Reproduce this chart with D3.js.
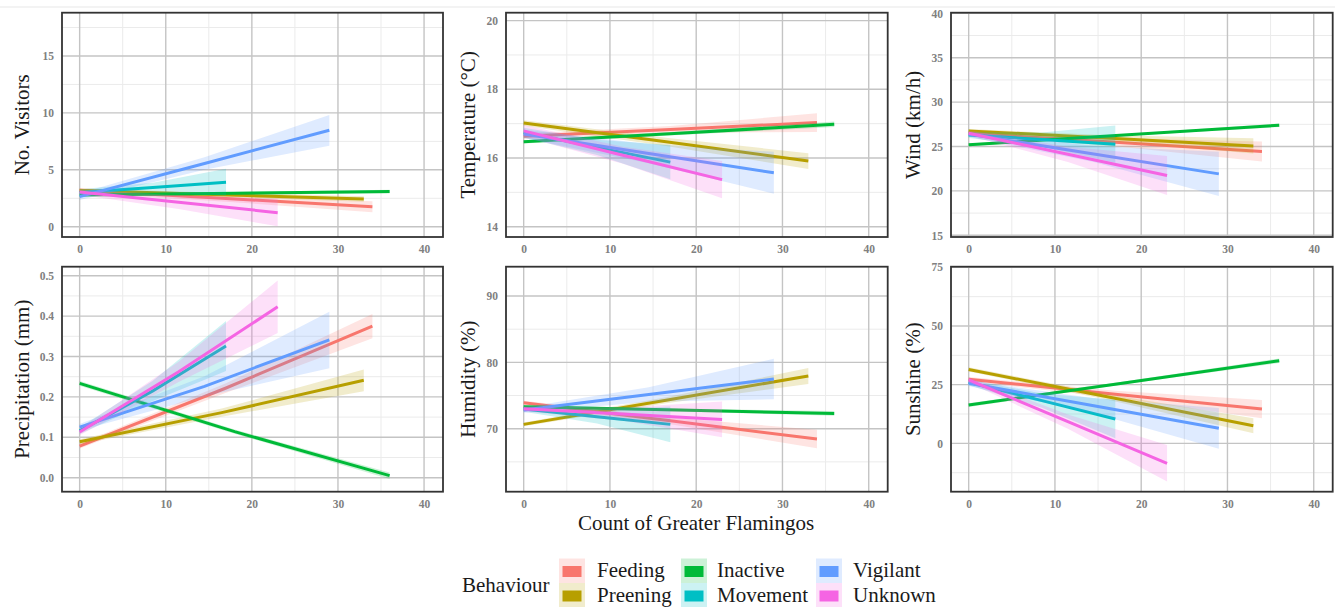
<!DOCTYPE html>
<html><head><meta charset="utf-8">
<script src="https://cdn.jsdelivr.net/npm/d3@7"></script>
<style>
body{margin:0;background:#fff;}
svg{display:block;font-family:"Liberation Serif","Times New Roman",serif;}
</style>
</head><body>
<svg id="c" width="1335" height="607"></svg>
<script>
// ---------------- data ----------------
const behaviours = ["Feeding","Preening","Inactive","Movement","Vigilant","Unknown"];
const colours = ["#F8766D","#B79F00","#00BA38","#00BFC4","#619CFF","#F564E3"];
const xEnds = [34,33,36,17,29,23];          // largest flamingo count per behaviour
const xTicks = [0,10,20,30,40];
const xMinor = [5,15,25,35];
const xTitle = "Count of Greater Flamingos";

// fitted value at count 0, at mid count, and at the largest count (per behaviour)
// and half-width of the confidence band at the same three counts
const visitorsFit  = [[3.2,2.48,1.76],[3.18,2.81,2.44],[2.79,2.94,3.09],[3.0,3.45,3.9],[2.65,5.56,8.47],[3.05,2.15,1.24]];
const visitorsHalf = [[0.2,0.28,0.48],[0.18,0.18,0.24],[0.13,0.12,0.16],[0.3,0.42,1.2],[0.3,0.55,1.35],[0.25,0.6,1.2]];

const temperatureFit  = [[16.63,16.83,17.03],[17.02,16.47,15.91],[16.47,16.72,16.98],[16.74,16.31,15.88],[16.7,16.13,15.57],[16.79,16.08,15.37]];
const temperatureHalf = [[0.08,0.1,0.27],[0.08,0.12,0.23],[0.05,0.05,0.08],[0.14,0.22,0.5],[0.12,0.28,0.61],[0.17,0.25,0.54]];

const windFit  = [[26.5,25.47,24.44],[26.76,25.92,25.07],[25.19,26.3,27.4],[26.3,25.78,25.26],[26.4,24.16,21.92],[26.5,24.12,21.74]];
const windHalf = [[0.25,0.45,1.13],[0.2,0.35,0.85],[0.15,0.12,0.2],[0.35,0.8,2.1],[0.3,0.9,2.5],[0.3,0.85,2.2]];

const precipitationFit  = [[0.078,0.222,0.375],[0.089,0.161,0.241],[0.2335,0.114,0.005],[0.116,0.215,0.326],[0.125,0.226,0.341],[0.113,0.262,0.423]];
const precipitationHalf = [[0.006,0.012,0.03],[0.006,0.01,0.027],[0.006,0.005,0.008],[0.008,0.025,0.062],[0.008,0.025,0.07],[0.008,0.025,0.065]];

const humidityFit  = [[73.92,71.18,68.44],[70.65,74.3,77.94],[73.3,72.8,72.3],[72.96,71.8,70.65],[72.8,75.15,77.49],[73.0,72.2,71.4]];
const humidityHalf = [[0.3,0.5,1.4],[0.3,0.45,1.2],[0.25,0.2,0.35],[0.4,1.0,2.7],[0.4,1.1,3.05],[0.4,1.0,2.7]];

const sunshineFit  = [[27.3,20.95,14.6],[31.5,19.5,7.5],[16.3,25.75,35.2],[26,18.2,10.4],[25.6,16.0,6.4],[27,9.25,-8.5]];
const sunshineHalf = [[1.0,1.5,3.9],[0.9,1.2,3.2],[0.8,0.6,1.0],[1.2,3.0,8.2],[1.2,3.2,8.7],[1.2,3.0,7.8]];

const yTitles = ["No. Visitors","Temperature (°C)","Wind (km/h)","Precipitation (mm)","Humidity (%)","Sunshine (%)"];
const yTicksList = [[0,5,10,15],[14,16,18,20],[15,20,25,30,35,40],[0,0.1,0.2,0.3,0.4,0.5],[70,80,90],[0,25,50,75]];
const yMinorList = [[2.5,7.5,12.5,17.5],[15,17,19],[17.5,22.5,27.5,32.5,37.5],[0.05,0.15,0.25,0.35,0.45],[65,75,85],[-12.5,12.5,37.5,62.5]];
const yFormats = [d3.format("d"),d3.format("d"),d3.format("d"),d3.format(".1f"),d3.format("d"),d3.format("d")];
const fits = [visitorsFit,temperatureFit,windFit,precipitationFit,humidityFit,sunshineFit];
const halves = [visitorsHalf,temperatureHalf,windHalf,precipitationHalf,humidityHalf,sunshineHalf];

// ---------------- layout ----------------
const yDomains = [[-0.9,18.8],[13.7,20.23],[14.81,40.07],[-0.0347,0.5223],[60.5,94.42],[-20.6,75.26]];
const xDomain = [-2.05,42.2];
const colLeft = [62,506,951], colRight = [443,887.7,1332.7];
const rowTop = [12.7,266.7], rowBottom = [237,491.7];
const titleX = [22,468,913];

const svg = d3.select("#c");
// faint top rule
svg.append("rect").attr("x",0).attr("y",6).attr("width",1335).attr("height",2).attr("fill","#f3f3f3");

const defs = svg.append("defs");

for (let p = 0; p < 6; p++) {
  const col = p % 3, row = Math.floor(p / 3);
  const L = colLeft[col], R = colRight[col], T = rowTop[row], B = rowBottom[row];
  const x = d3.scaleLinear().domain(xDomain).range([L, R]);
  const y = d3.scaleLinear().domain(yDomains[p]).range([B, T]);
  const g = svg.append("g");

  // grid minor
  g.selectAll(".xm").data(xMinor).join("line")
    .attr("x1",d=>x(d)).attr("x2",d=>x(d)).attr("y1",T).attr("y2",B)
    .attr("stroke","#ebebeb").attr("stroke-width",1);
  g.selectAll(".ym").data(yMinorList[p]).join("line")
    .attr("y1",d=>y(d)).attr("y2",d=>y(d)).attr("x1",L).attr("x2",R)
    .attr("stroke","#ebebeb").attr("stroke-width",1);
  // grid major
  g.selectAll(".xM").data(xTicks).join("line")
    .attr("x1",d=>x(d)).attr("x2",d=>x(d)).attr("y1",T).attr("y2",B)
    .attr("stroke","#c4c4c4").attr("stroke-width",1.4);
  g.selectAll(".yM").data(yTicksList[p]).join("line")
    .attr("y1",d=>y(d)).attr("y2",d=>y(d)).attr("x1",L).attr("x2",R)
    .attr("stroke","#c4c4c4").attr("stroke-width",1.4);

  // clip
  const cid = "clip" + p;
  defs.append("clipPath").attr("id",cid).append("rect")
    .attr("x",L).attr("y",T).attr("width",R-L).attr("height",B-T);
  const plot = g.append("g").attr("clip-path",`url(#${cid})`);

  for (let i = 0; i < behaviours.length; i++) {
    const xs = [0, xEnds[i] / 2, xEnds[i]];
    const pts = xs.map((xv, k) => ({x: xv, f: fits[p][i][k], h: halves[p][i][k]}));
    const area = d3.area().x(d=>x(d.x)).y0(d=>y(d.f - d.h)).y1(d=>y(d.f + d.h));
    const line = d3.line().x(d=>x(d.x)).y(d=>y(d.f));
    plot.append("path").attr("d",area(pts)).attr("fill",colours[i]).attr("fill-opacity",0.2);
    plot.append("path").attr("d",line(pts)).attr("fill","none")
      .attr("stroke",colours[i]).attr("stroke-width",3).attr("stroke-linecap","butt");
  }

  // border
  g.append("rect").attr("x",L).attr("y",T).attr("width",R-L).attr("height",B-T)
    .attr("fill","none").attr("stroke","#333").attr("stroke-width",1.8);

  // y axis labels
  const yAxis = d3.axisLeft(y).tickValues(yTicksList[p]).tickFormat(yFormats[p]).tickSize(0).tickPadding(8);
  const ya = g.append("g").attr("transform",`translate(${L},0)`).call(yAxis);
  ya.select(".domain").remove();
  ya.selectAll("text").attr("fill","#808080").attr("font-size",11.5).attr("font-weight","bold")
    .attr("font-family","Liberation Serif, serif");
  // x axis labels
  const xAxis = d3.axisBottom(x).tickValues(xTicks).tickFormat(d3.format("d")).tickSize(0).tickPadding(8);
  const xa = g.append("g").attr("transform",`translate(0,${B})`).call(xAxis);
  xa.select(".domain").remove();
  xa.selectAll("text").attr("fill","#808080").attr("font-size",11.5).attr("font-weight","bold")
    .attr("font-family","Liberation Serif, serif");

  // y title
  svg.append("text").attr("transform",`translate(${titleX[col]+7},${(T+B)/2}) rotate(-90)`)
    .attr("text-anchor","middle").attr("font-size",21).attr("fill","#1a1a1a").text(yTitles[p]);
}

// x title
svg.append("text").attr("x",696).attr("y",530).attr("text-anchor","middle")
  .attr("font-size",21).attr("fill","#1a1a1a").text(xTitle);

// legend
const lg = svg.append("g");
lg.append("text").attr("x",462).attr("y",592).attr("font-size",21).attr("fill","#1a1a1a").text("Behaviour");
const keyX = [559,681,816], keyY = [558.5,583], labX = [597,717,853], labY = [577,601.5];
behaviours.forEach((b, i) => {
  const c = Math.floor(i / 2), r = i % 2;
  lg.append("rect").attr("x",keyX[c]).attr("y",keyY[r]).attr("width",26).attr("height",24.5)
    .attr("fill",colours[i]).attr("fill-opacity",0.2);
  lg.append("rect").attr("x",keyX[c]+3.5).attr("y",keyY[r]+7.5).attr("width",19).attr("height",11)
    .attr("fill",colours[i]);
  lg.append("text").attr("x",labX[c]).attr("y",labY[r]).attr("font-size",21).attr("fill","#1a1a1a").text(b);
});
</script>
</body></html>
